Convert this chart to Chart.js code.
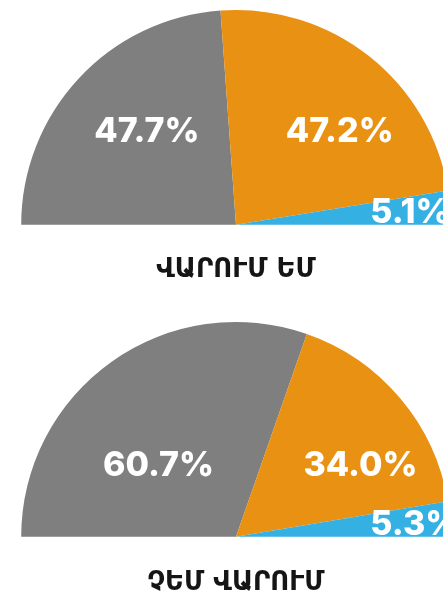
<!DOCTYPE html>
<html>
<head>
<meta charset="utf-8">
<script src="https://cdn.jsdelivr.net/npm/chart.js@4.4.1/dist/chart.umd.min.js"></script>
<style>
  html, body { margin: 0; padding: 0; background: #fff; overflow: hidden; width: 443px; height: 593px; }
  .half { position: absolute; left: 0; }
  #drivingWrap { top: 0; }
  #notDrivingWrap { top: 300px; }
</style>
</head>
<body>
<div class="half" id="drivingWrap"><canvas id="drivingChart" width="472" height="300"></canvas></div>
<div class="half" id="notDrivingWrap"><canvas id="notDrivingChart" width="472" height="320"></canvas></div>
<script>
const segments = ['Option 1', 'Option 2', 'Option 3'];
const drivingValues = [47.7, 47.2, 5.1];
const notDrivingValues = [60.7, 34.0, 5.3];
const chartTitles = ['ՎԱՐՈՒՄ ԵՄ', 'ՉԵՄ ՎԱՐՈՒՄ'];

const segmentColors = ['#7f7f7f', '#e99112', '#35b0e2'];

// x where a slice edge (ray from the centre) crosses the line h above the centre
function rayX(angle, h) {
    return -h * Math.cos(angle) / Math.sin(angle);
}

// percent labels: big slices get the label centred in the slice's span at a fixed height,
// the thin slice gets its label on the base line near the rim
const sliceLabels = {
    id: 'sliceLabels',
    afterDatasetsDraw(chart, args, opts) {
        const { ctx, chartArea } = chart;
        const meta = chart.getDatasetMeta(0);
        const values = chart.data.datasets[0].data;
        ctx.save();
        ctx.beginPath();
        ctx.rect(chartArea.left, chartArea.top, chartArea.width, chartArea.height);
        ctx.clip();
        ctx.fillStyle = '#ffffff';
        ctx.font = '800 34px Inter';
        ctx.textBaseline = 'alphabetic';
        meta.data.forEach((arc, i) => {
            const p = arc.getProps(['x', 'y', 'startAngle', 'endAngle', 'outerRadius'], true);
            const R = p.outerRadius;
            const text = values[i].toFixed(1) + '%';
            if (values[i] < 10) {
                ctx.textAlign = 'left';
                ctx.fillText(text, p.x + R * 0.625, p.y - 2);
                return;
            }
            const h = R * opts.height;
            const w = Math.sqrt(R * R - h * h);
            const clamp = v => Math.max(-w, Math.min(w, v));
            const x0 = p.startAngle <= -Math.PI + 1e-6 ? -w : clamp(rayX(p.startAngle, h));
            const x1 = p.endAngle >= -1e-6 ? w : clamp(rayX(p.endAngle, h));
            ctx.textAlign = 'center';
            ctx.fillText(text, p.x + (x0 + x1) / 2 + R * 0.05, p.y - h + 12);
        });
        ctx.restore();
    }
};

function halfPie(canvasId, values, title, topPad, titlePad, labelHeight) {
    return new Chart(document.getElementById(canvasId), {
        type: 'doughnut',
        data: {
            labels: segments,
            datasets: [{
                data: values,
                backgroundColor: segmentColors,
                borderWidth: 0
            }]
        },
        options: {
            responsive: false,
            devicePixelRatio: 1,
            animation: false,
            rotation: -90,
            circumference: 180,
            cutout: 0,
            layout: { padding: { top: topPad, left: 0, right: 0, bottom: 0 } },
            plugins: {
                legend: { display: false },
                tooltip: { enabled: false },
                title: {
                    display: true,
                    text: title,
                    position: 'bottom',
                    color: '#151515',
                    font: { family: 'DejaVu Sans', size: 26, weight: 'bold', lineHeight: 1.2 },
                    padding: titlePad
                },
                sliceLabels: { height: labelHeight }
            }
        },
        plugins: [sliceLabels]
    });
}

halfPie('drivingChart', drivingValues, chartTitles[0], 10, { top: 30, bottom: 14 }, 0.44);
halfPie('notDrivingChart', notDrivingValues, chartTitles[1], 22, { top: 31, bottom: 21 }, 0.34);
</script>
</body>
</html>
